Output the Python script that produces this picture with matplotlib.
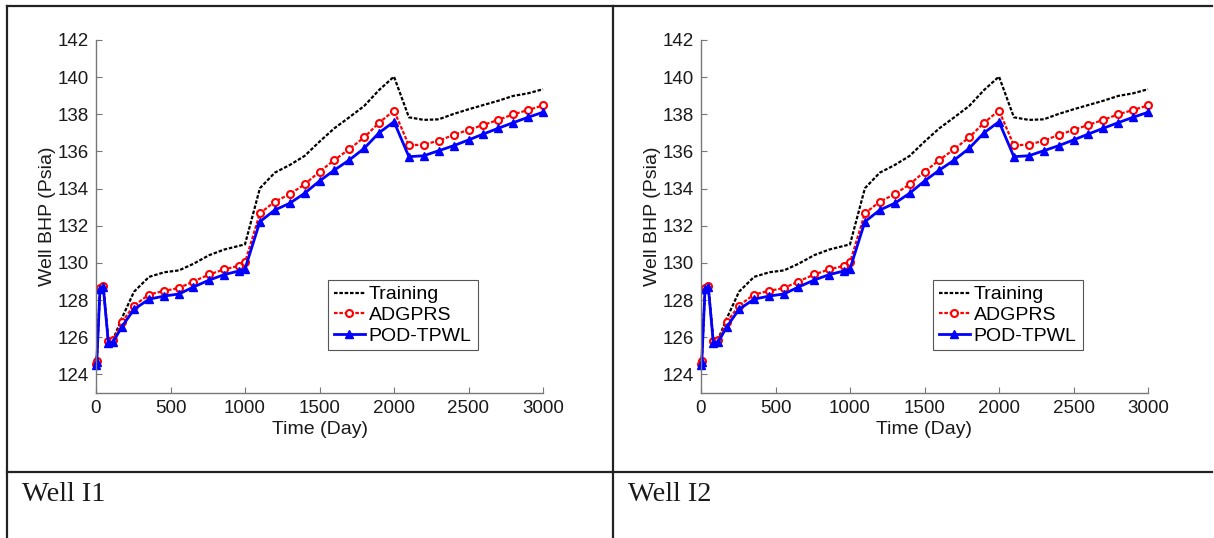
import matplotlib.pyplot as plt
from matplotlib.lines import Line2D

# tempo (dias) e pressao de fundo (Psia)
tempo = [0, 5, 27, 49, 83, 116, 172, 255, 356, 459, 557, 653, 760, 860, 960, 1000,
         1100, 1200, 1300, 1400, 1500, 1600, 1700, 1800, 1900, 2000,
         2100, 2200, 2300, 2400, 2500, 2600, 2700, 2800, 2900, 3000]

training = [124.55, 124.7, 128.65, 128.75, 125.8, 125.9, 127.0, 128.45, 129.25, 129.5,
            129.6, 129.95, 130.42, 130.72, 130.92, 131.0,
            134.02, 134.86, 135.27, 135.76, 136.53, 137.25, 137.84, 138.45, 139.31, 140.03,
            137.84, 137.7, 137.73, 138.02, 138.27, 138.5, 138.73, 138.99, 139.13, 139.35]

adgprs = [124.55, 124.7, 128.65, 128.75, 125.8, 125.85, 126.8, 127.7, 128.3, 128.5,
          128.65, 129.0, 129.38, 129.65, 129.85, 130.03,
          132.67, 133.3, 133.7, 134.23, 134.91, 135.54, 136.13, 136.76, 137.55, 138.2,
          136.33, 136.37, 136.58, 136.89, 137.16, 137.43, 137.7, 138.0, 138.23, 138.48]

pod_tpwl = [124.5, 124.65, 128.6, 128.7, 125.7, 125.75, 126.55, 127.5, 128.05, 128.22,
            128.33, 128.7, 129.08, 129.37, 129.57, 129.68,
            132.22, 132.85, 133.21, 133.75, 134.41, 135.0, 135.54, 136.17, 137.01, 137.6,
            135.72, 135.77, 136.04, 136.31, 136.62, 136.94, 137.25, 137.55, 137.84, 138.11]

pocos = ['Well I1', 'Well I2']
xticks = [0, 500, 1000, 1500, 2000, 2500, 3000]
yticks = [124, 126, 128, 130, 132, 134, 136, 138, 140, 142]

W, H = 1214, 538
fig = plt.figure(figsize=(W / 100, H / 100), dpi=100)
plt.rcParams['font.family'] = ['Liberation Sans', 'DejaVu Sans']


def px(x, y):
    return x / W, 1 - y / H


def plotar_poco(esquerda, nome, x_texto):
    ax = fig.add_axes([esquerda / W, (H - 393) / H, 447 / W, 353 / H])
    ax.plot(tempo, training, color='black', linestyle=(0, (1.6, 0.8)), linewidth=1.6,
            label='Training', clip_on=False)
    ax.plot(tempo, adgprs, color='red', linestyle=(0, (1.6, 0.8)), linewidth=1.6,
            marker='o', markersize=5, markerfacecolor='white', markeredgecolor='red',
            markeredgewidth=1.5, label='ADGPRS', clip_on=False)
    ax.plot(tempo, pod_tpwl, color='blue', linewidth=2, marker='^', markersize=5.5,
            markerfacecolor='blue', markeredgecolor='blue', label='POD-TPWL', clip_on=False)

    ax.set_xlim(0, 3000)
    ax.set_ylim(123, 142)
    ax.set_xticks(xticks)
    ax.set_yticks(yticks)
    ax.spines['top'].set_visible(False)
    ax.spines['right'].set_visible(False)
    for s in ['left', 'bottom']:
        ax.spines[s].set_color('#777777')
        ax.spines[s].set_linewidth(1)
    ax.tick_params(direction='in', length=4, width=0.8, color='#777777',
                   labelsize=13.5, labelcolor='#1a1a1a', pad=5)
    ax.set_xlabel('Time (Day)', fontsize=14, color='#1a1a1a', labelpad=3)
    ax.set_ylabel('Well BHP (Psia)', fontsize=14, color='#1a1a1a', labelpad=1.5)

    leg = ax.legend(loc='upper left', bbox_to_anchor=(0.519, 0.320), fontsize=14,
                    fancybox=False, framealpha=1, edgecolor='#555555', borderpad=0.3,
                    labelspacing=0.15, handlelength=1.6, handletextpad=0.2,
                    borderaxespad=0, numpoints=1)
    leg.get_frame().set_linewidth(0.8)

    fig.text(*px(x_texto, 501), nome, fontsize=20.5, family='Liberation Serif',
             color='#1a1a1a', ha='left', va='baseline')


plotar_poco(96, pocos[0], 22)
plotar_poco(701, pocos[1], 628)

# moldura da tabela
linhas = [((7, 6), (1212, 6)), ((7, 6), (7, 538)), ((613, 6), (613, 538)),
          ((7, 472), (1212, 472))]
for (x0, y0), (x1, y1) in linhas:
    a, b = px(x0, y0)
    c, d = px(x1, y1)
    fig.add_artist(Line2D([a, c], [b, d], transform=fig.transFigure,
                          color='#222222', linewidth=1.6))

fig.savefig('out.png', dpi=100)
